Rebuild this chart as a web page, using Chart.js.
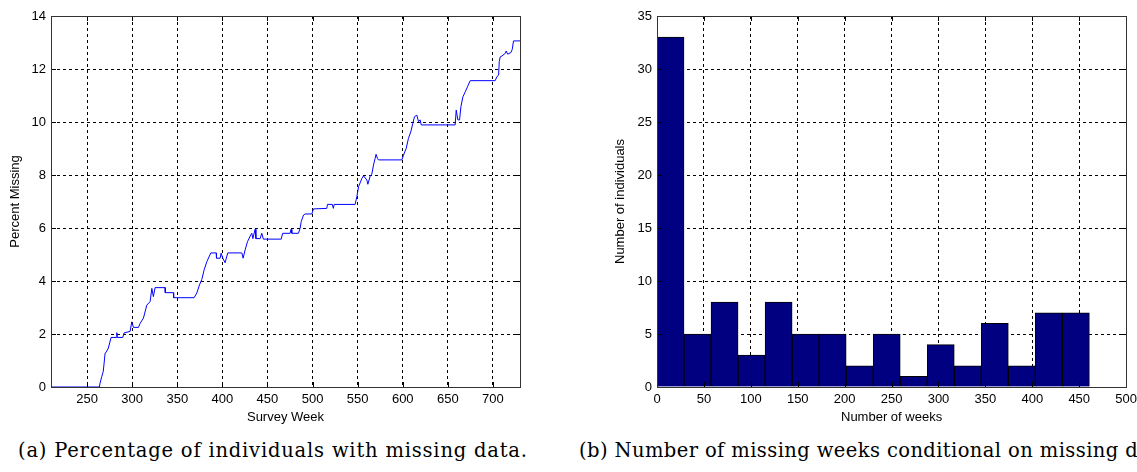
<!DOCTYPE html>
<html>
<head>
<meta charset="utf-8">
<script src="https://cdn.jsdelivr.net/npm/chart.js@4"></script>
<style>
  body { margin: 0; background: #fff; }
  #wrap { position: relative; width: 1137px; height: 472px; overflow: hidden; }
  .box { position: absolute; top: 0; height: 430px; }
  .cap { position: absolute; top: 439px; font-family: "DejaVu Serif", serif; font-size: 19.5px; letter-spacing: 0.8px; color: #000; white-space: nowrap; }
</style>
</head>
<body>
<div id="wrap">
  <div class="box" style="left:0; width:530px;"><canvas id="chartA"></canvas></div>
  <div class="box" style="left:600px; width:542px;"><canvas id="chartB"></canvas></div>
  <div class="cap" style="left:18px;">(a) Percentage of individuals with missing data.</div>
  <div class="cap" style="left:579px; letter-spacing:0.4px;">(b) Number of missing weeks conditional on missing data.</div>
</div>
<script>
// (a) percent missing by survey week
const surveyWeeks = [210, 263.6, 264.4, 266.3, 268, 270, 271, 273.6, 276.6, 282.5, 283, 283.5, 289.6, 291, 297.7, 299.6,
  301.4, 307, 308.8, 312.5, 316.2, 319.9, 321.8, 323.5, 325.4, 336.5, 336.7, 345.7, 346, 368.7, 371.7, 374.6,
  377.2, 379.8, 382.8, 387.2, 393.1, 393.5, 397.5, 398.6, 400.5, 403, 406, 421.6, 423, 425.2, 427.8, 431.5,
  432.7, 433.8, 436.3, 437.2, 441.9, 443.7, 445.5, 465.2, 466.9, 475.1, 476.2, 477, 484.3, 486.2, 487.4, 490,
  491.8, 499.2, 501, 515.8, 516.5, 522, 523, 524, 547.2, 549.1, 551, 554.7, 556.5, 560.2, 561.3, 563.9, 565.7,
  567.6, 569.4, 570.4, 571.9, 573.1, 599, 600.8, 603.8, 606.3, 608.9, 611.2, 613, 615.6, 617.5, 619.3, 620.5,
  658.1, 659.3, 661.1, 663, 664.5, 666.7, 669.3, 671.8, 674.8, 702.5, 704.4, 706.3, 707, 708.1, 710, 713.6,
  714.7, 716.3, 719.9, 721.4, 722.8, 730];
const percentMissing = [0, 0, 0.15, 0.39, 0.6, 1.28, 1.3, 1.47, 1.87, 1.87, 2.05, 1.87, 1.87, 2.04, 2.1, 2.46,
  2.25, 2.25, 2.4, 2.6, 3.09, 3.22, 3.72, 3.41, 3.75, 3.75, 3.56, 3.56, 3.37, 3.37, 3.55, 3.85,
  4.06, 4.42, 4.73, 5.06, 5.06, 4.86, 4.86, 5.05, 4.86, 4.69, 5.06, 5.06, 4.86, 5.17, 5.48, 5.74,
  5.8, 5.6, 5.95, 5.6, 5.6, 5.8, 5.58, 5.58, 5.8, 5.8, 5.95, 5.8, 5.8, 5.99, 6.24, 6.49,
  6.53, 6.53, 6.72, 6.74, 6.89, 6.89, 6.74, 6.89, 6.89, 7.18, 7.56, 7.87, 7.97, 7.81, 7.65, 7.96, 8.03,
  8.38, 8.63, 8.78, 8.63, 8.57, 8.57, 8.75, 9.0, 9.38, 9.63, 9.95, 10.2, 10.26, 10.01, 10.08, 9.89,
  9.89, 10.45, 10.08, 10.08, 10.58, 10.95, 11.14, 11.33, 11.56, 11.56, 11.71, 11.77, 12.28, 12.46, 12.49, 12.59,
  12.68, 12.56, 12.62, 12.74, 13.06, 13.06];

// (b) histogram of missing weeks
const binCenters = [14.4, 43.2, 72, 100.8, 129.6, 158.4, 187.2, 216, 244.8, 273.6, 302.4, 331.2, 360, 388.8, 417.6, 446.4];
const binCounts = [33, 5, 8, 3, 8, 5, 5, 2, 5, 1, 4, 2, 6, 2, 7, 7];

const tickFont = { family: '"Liberation Sans", Arial, sans-serif', size: 13 };
const titleFont = { family: '"Liberation Sans", Arial, sans-serif', size: 13 };

// matlab style frame with inward ticks
const framePlugin = {
  id: 'frame',
  afterDraw(chart) {
    const { ctx, chartArea: a, scales } = chart;
    ctx.save();
    ctx.strokeStyle = '#000';
    ctx.lineWidth = 1;
    ctx.setLineDash([]);
    ctx.beginPath();
    scales.x.ticks.forEach(t => {
      const px = Math.round(scales.x.getPixelForValue(t.value)) + 0.5;
      ctx.moveTo(px, a.bottom); ctx.lineTo(px, a.bottom - 5);
      ctx.moveTo(px, a.top); ctx.lineTo(px, a.top + 5);
    });
    scales.y.ticks.forEach(t => {
      const py = Math.round(scales.y.getPixelForValue(t.value)) + 0.5;
      ctx.moveTo(a.left, py); ctx.lineTo(a.left + 5, py);
      ctx.moveTo(a.right, py); ctx.lineTo(a.right - 5, py);
    });
    ctx.stroke();
    ctx.strokeStyle = '#333';
    ctx.strokeRect(Math.round(a.left) + 0.5, Math.round(a.top) + 0.5,
      Math.round(a.right - a.left), Math.round(a.bottom - a.top));
    ctx.restore();
  }
};

function axisOpts(min, max, step, title, isX, fitSize, titlePad) {
  return {
    type: 'linear',
    min: min,
    max: max,
    offset: false,
    ticks: { stepSize: step, includeBounds: false, font: tickFont, color: '#000', padding: 5, maxRotation: 0, autoSkip: false },
    grid: { color: '#000', lineWidth: 1, drawTicks: false, offset: false },
    border: { display: false, dash: [3, 3] },
    title: { display: true, text: title, font: titleFont, color: '#000', padding: titlePad },
    afterFit: s => { if (isX) s.height = fitSize; else s.width = fitSize; }
  };
}

new Chart(document.getElementById('chartA'), {
  type: 'line',
  data: {
    datasets: [{
      data: surveyWeeks.map((w, i) => ({ x: w, y: percentMissing[i] })),
      borderColor: '#0000ff',
      borderWidth: 1,
      pointRadius: 0,
      tension: 0,
      fill: false
    }]
  },
  options: {
    responsive: true,
    maintainAspectRatio: false,
    animation: false,
    layout: { padding: { top: 16, right: 10, left: 0, bottom: 0 } },
    plugins: { legend: { display: false }, tooltip: { enabled: false } },
    scales: {
      x: axisOpts(210, 730, 50, 'Survey Week', true, 43, { top: 0, bottom: 5 }),
      y: axisOpts(0, 14, 2, 'Percent Missing', false, 51, { top: 8, bottom: 0 })
    }
  },
  plugins: [framePlugin]
});

new Chart(document.getElementById('chartB'), {
  type: 'bar',
  data: {
    datasets: [{
      data: binCenters.map((c, i) => ({ x: c, y: binCounts[i] })),
      backgroundColor: '#000080',
      borderColor: '#000',
      borderWidth: 1,
      barPercentage: 1,
      categoryPercentage: 1
    }]
  },
  options: {
    responsive: true,
    maintainAspectRatio: false,
    animation: false,
    layout: { padding: { top: 16, right: 0, left: 0, bottom: 0 } },
    plugins: { legend: { display: false }, tooltip: { enabled: false } },
    scales: {
      x: axisOpts(0, 500, 50, 'Number of weeks', true, 43, { top: 0, bottom: 5 }),
      y: axisOpts(0, 35, 5, 'Number of individuals', false, 57, { top: 13, bottom: 0 })
    }
  },
  plugins: [framePlugin]
});
</script>
</body>
</html>
